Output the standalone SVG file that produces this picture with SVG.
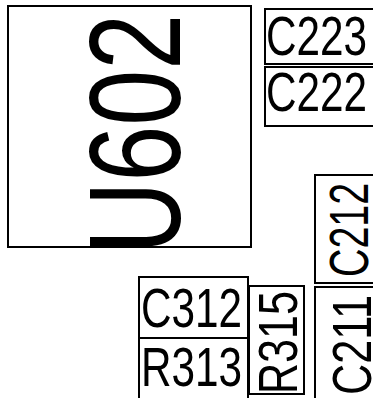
<svg xmlns="http://www.w3.org/2000/svg" width="373" height="398" viewBox="0 0 373 398">
<style>
rect{fill:#fff;stroke:#000;stroke-width:2}
text{font-family:"Liberation Sans",Arial,sans-serif;fill:#000}
.s{font-size:55px}
.b{font-size:130px}
</style>
<rect x="0" y="0" width="373" height="398" style="stroke:none"/>
<g id="U602"><rect x="8" y="6" width="243" height="241"/><text class="b" transform="translate(180,254) rotate(-90)" textLength="240" lengthAdjust="spacingAndGlyphs">U602</text></g>
<g id="C223"><rect x="265" y="9" width="112" height="55"/><text class="s" x="266" y="55" textLength="101" lengthAdjust="spacingAndGlyphs">C223</text></g>
<g id="C222"><rect x="265" y="67" width="112" height="59"/><text class="s" x="266" y="111" textLength="101" lengthAdjust="spacingAndGlyphs">C222</text></g>
<g id="C212"><rect x="315" y="175" width="62" height="108"/><text class="s" transform="translate(368,277) rotate(-90)" textLength="94" lengthAdjust="spacingAndGlyphs">C212</text></g>
<g id="C211"><rect x="315" y="287" width="62" height="115"/><text class="s" transform="translate(371,395) rotate(-90)" textLength="100" lengthAdjust="spacingAndGlyphs">C211</text></g>
<g id="C312"><rect x="139" y="277" width="109" height="61"/><text class="s" x="141" y="327" textLength="101" lengthAdjust="spacingAndGlyphs">C312</text></g>
<g id="R313"><rect x="139" y="338" width="109" height="62"/><text class="s" x="141" y="386" textLength="101" lengthAdjust="spacingAndGlyphs">R313</text></g>
<g id="R315"><rect x="249" y="286" width="55" height="108"/><text class="s" transform="translate(297,394) rotate(-90)" textLength="103" lengthAdjust="spacingAndGlyphs">R315</text></g>
<g id="connectors"></g>
</svg>
